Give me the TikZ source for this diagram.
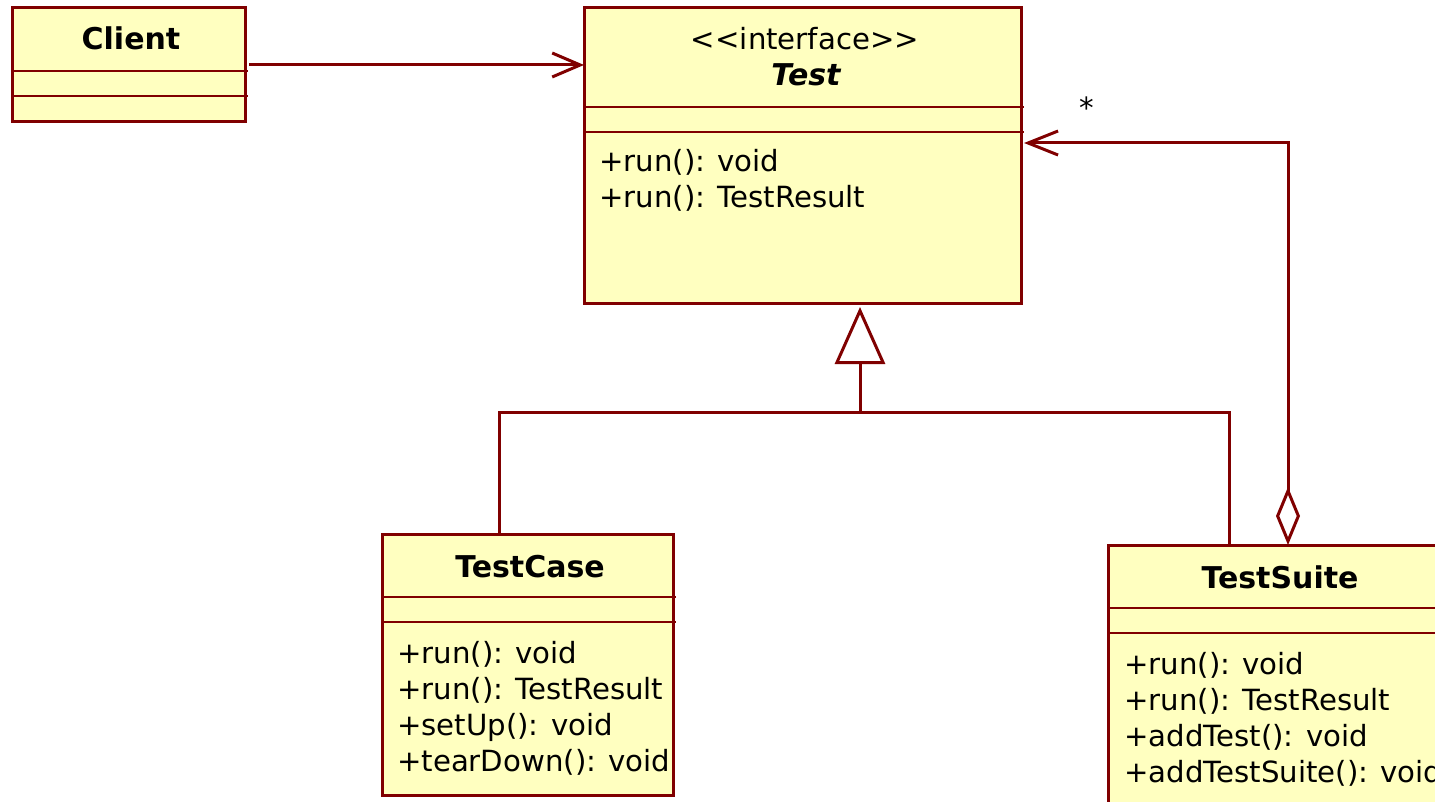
\documentclass[tikz,border=0pt]{standalone}
\usepackage{fontspec}
\setmainfont{DejaVu Sans}
\usetikzlibrary{arrows.meta}
\definecolor{umlline}{HTML}{800000}
\definecolor{umlfill}{HTML}{FFFFC0}
\begin{document}
\begin{tikzpicture}[x=1pt,y=-1pt,
  cls/.style={draw=umlline, fill=umlfill, line width=3pt, rectangle, anchor=north west, inner sep=0pt, outer sep=0pt},
  sep/.style={draw=umlline, line width=2.8pt},
  conn/.style={draw=umlline, line width=3pt},
  title/.style={font=\fontsize{30}{36}\selectfont\bfseries, anchor=base, inner sep=0pt},
  member/.style={font=\fontsize{29.2}{36}\selectfont, anchor=base west, inner sep=0pt},
  plain/.style={font=\fontsize{29.2}{36}\selectfont, anchor=base, inner sep=0pt},
]
\useasboundingbox (0,0) rectangle (1435,802);
\clip (0,0) rectangle (1435,802);

% Client
\node[cls, minimum width=233pt, minimum height=114pt] (client) at (12,8) {};
\draw[sep] (client.west |- 0,71) -- ([xshift=3pt]client.east |- 0,71);
\draw[sep] (client.west |- 0,96) -- ([xshift=3pt]client.east |- 0,96);
\node[title] (clientname) at (131,50) {Client};

% Test
\node[cls, minimum width=437pt, minimum height=296pt] (test) at (584,8) {};
\draw[sep] (test.west |- 0,107) -- ([xshift=3pt]test.east |- 0,107);
\draw[sep] (test.west |- 0,132) -- ([xshift=3pt]test.east |- 0,132);
\node[plain] (stereo) at (805,50) {<\kern0pt<interface>\kern0pt>};
\node[title, font=\fontsize{30}{36}\selectfont\bfseries\itshape] (testname) at (806,86) {Test};
\node[member] (t1) at (599,172) {+run(): void};
\node[member] (t2) at (599,208) {+run(): TestResult};

% TestCase
\node[cls, minimum width=291pt, minimum height=261pt] (tcase) at (382,534) {};
\draw[sep] (tcase.west |- 0,597) -- ([xshift=3pt]tcase.east |- 0,597);
\draw[sep] (tcase.west |- 0,622) -- ([xshift=3pt]tcase.east |- 0,622);
\node[title] (tcasename) at (530,577) {TestCase};
\node[member] (c1) at (397,663) {+run(): void};
\node[member] (c2) at (397,699) {+run(): TestResult};
\node[member] (c3) at (397,735) {+setUp(): void};
\node[member] (c4) at (397,771) {+tearDown(): void};

% TestSuite
\node[cls, minimum width=344pt, minimum height=280pt] (suite) at (1108,545) {};
\draw[sep] (suite.west |- 0,608) -- ([xshift=3pt]suite.east |- 0,608);
\draw[sep] (suite.west |- 0,633) -- ([xshift=3pt]suite.east |- 0,633);
\node[title] (suitename) at (1280,588) {TestSuite};
\node[member] (s1) at (1124,674) {+run(): void};
\node[member] (s2) at (1124,710) {+run(): TestResult};
\node[member] (s3) at (1124,746) {+addTest(): void};
\node[member] (s4) at (1124,782) {+addTestSuite(): void};

% Client -> Test association
\coordinate (ca) at ([xshift=4pt,yshift=-57pt]client.north east);
\draw[conn, -{Straight Barb[length=28pt,width=24pt]}] (ca) -- (test.west |- ca);

% Aggregation TestSuite -> Test
\coordinate (ag) at (1288,143);
\draw[conn, {Diamond[open,fill=white,length=58pt,width=24pt]}-{Straight Barb[length=30pt,width=24pt]}]
  (ag |- suite.north) -- (ag) -- ([xshift=3pt]test.east |- ag);
\node[plain, anchor=center] (mult) at (1087,108) {*};

% Generalization
\coordinate (g1) at (499,412);
\coordinate (g2) at (1229,412);
\coordinate (gj) at (860,412);
\coordinate (gt) at (860,307);
\draw[conn] (g1 |- tcase.north) -- (g1) -- (g2) -- (g2 |- suite.north);
\draw[conn, -{Triangle[open,length=57pt,width=50pt]}] (gj) -- (gt);
\end{tikzpicture}
\end{document}
